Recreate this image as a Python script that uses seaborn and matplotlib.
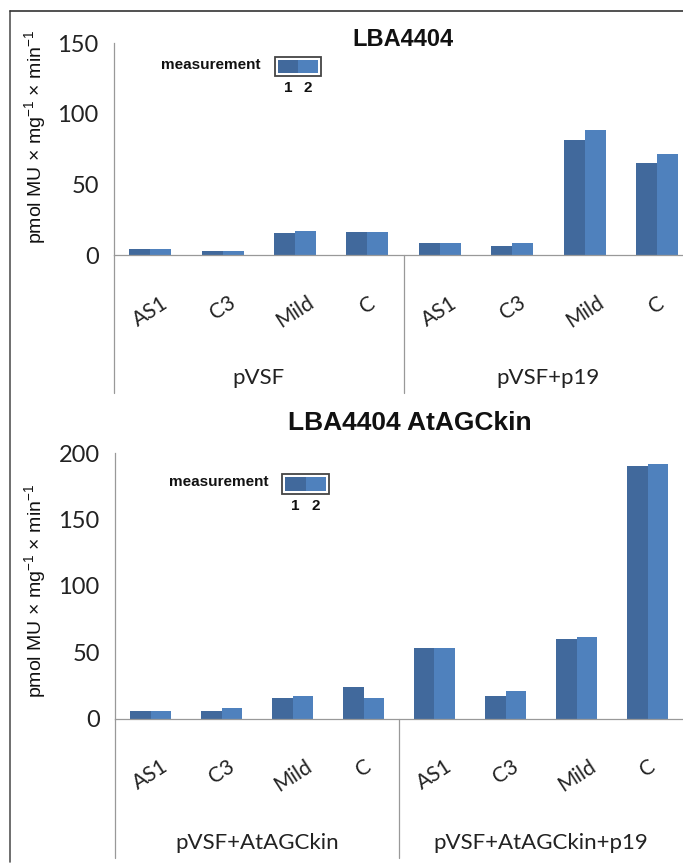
import pandas as pd
import seaborn as sns
import matplotlib.pyplot as plt
from matplotlib.lines import Line2D
from matplotlib.patches import Rectangle

# Bar heights (pmol MU x mg-1 x min-1)
categories = ['AS1', 'C3', 'Mild', 'C']
measurements = ['1', '2']

top_groups = ['pVSF', 'pVSF+p19']
top_m1 = [4.2, 3.0, 15.8, 16.3, 8.5, 6.8, 81.6, 65.1]
top_m2 = [4.2, 3.0, 17.0, 16.3, 8.5, 8.5, 88.9, 71.5]
top_yticks = [0, 50, 100, 150]

bottom_groups = ['pVSF+AtAGCkin', 'pVSF+AtAGCkin+p19']
bottom_m1 = [6.0, 6.0, 15.8, 23.6, 53.5, 17.1, 60.1, 190.7]
bottom_m2 = [6.0, 7.8, 17.1, 15.8, 53.5, 20.6, 61.6, 192.0]
bottom_yticks = [0, 50, 100, 150, 200]

colors = ['#41699c', '#4f81bd']

sns.set_theme(style='white')
plt.rcParams['font.family'] = ['Lato', 'DejaVu Sans']
plt.rcParams['mathtext.fontset'] = 'custom'
plt.rcParams['mathtext.rm'] = 'Liberation Sans'
plt.rcParams['mathtext.it'] = 'Liberation Sans'

W, H = 683, 864
fig = plt.figure(figsize=(W / 100, H / 100), dpi=100)
fig.patch.set_facecolor('white')


def fx(x):
    return x / W


def fy(y):
    return 1 - y / H


def make_frame(groups, m1, m2):
    keys = [f'{g}|{c}' for g in groups for c in categories]
    return pd.DataFrame({
        'key': keys * 2,
        'measurement': [measurements[0]] * len(keys) + [measurements[1]] * len(keys),
        'value': m1 + m2,
    })


def draw_panel(rect, df, groups, yticks, sep_bottom, group_y, ylabel_xy):
    ax = fig.add_axes(rect)
    sns.barplot(data=df, x='key', y='value', hue='measurement', palette=colors,
                width=0.58, saturation=1, errorbar=None, legend=False,
                linewidth=0, ax=ax)
    ax.set_xlim(-0.5, 7.5)
    ax.set_ylim(0, yticks[-1])
    ax.set_yticks(yticks)
    ax.set_xticks(range(8))
    ax.set_xticklabels(categories * 2, rotation=33, ha='center', va='top', fontsize=15)
    ax.tick_params(axis='x', length=0, pad=27, labelcolor='#222')
    ax.tick_params(axis='y', length=5, width=0.8, color='#999', direction='out',
                   labelsize=17, labelcolor='#222', pad=6)
    for side in ['top', 'right']:
        ax.spines[side].set_visible(False)
    for side in ['left', 'bottom']:
        ax.spines[side].set_color('#999')
        ax.spines[side].set_linewidth(0.9)
    ax.set_facecolor('none')
    ax.set_xlabel('')
    ax.set_ylabel(r'pmol MU $\times$ mg$^{-1}$ $\times$ min$^{-1}$',
                  family='Liberation Sans', fontsize=14, va='center', color='#111')
    ax.yaxis.set_label_coords(*ylabel_xy)

    # category-group separators and group names under the ticks
    trans = ax.get_xaxis_transform()
    for xs in [-0.5, 3.5]:
        ax.plot([xs, xs], [0, sep_bottom], transform=trans, clip_on=False,
                color='#999', lw=0.9)
    for i, g in enumerate(groups):
        ax.text(1.5 + 4 * i, group_y, g, transform=trans, ha='center', va='center',
                fontsize=16, color='#222')
    return ax


def draw_legend(box, text_right, text_y, nums_y):
    x0, y0, x1, y1 = box
    fig.add_artist(Rectangle((fx(x0), fy(y1)), fx(x1) - fx(x0), fy(y0) - fy(y1),
                             transform=fig.transFigure, facecolor='white',
                             edgecolor='#444', lw=1.3))
    xm = (x0 + x1) / 2
    fig.add_artist(Rectangle((fx(x0 + 3), fy(y1 - 3)), fx(xm - x0 - 3), fy(y0 + 3) - fy(y1 - 3),
                             transform=fig.transFigure, facecolor=colors[0], lw=0))
    fig.add_artist(Rectangle((fx(xm), fy(y1 - 3)), fx(x1 - 3 - xm), fy(y0 + 3) - fy(y1 - 3),
                             transform=fig.transFigure, facecolor=colors[1], lw=0))
    fig.text(fx(text_right), fy(text_y), 'measurement', ha='right', va='center',
             family='Liberation Sans', fontweight='bold', fontsize=11, color='#111')
    for m, cx in zip(measurements, [(x0 + 3 + xm) / 2, (xm + x1 - 3) / 2]):
        fig.text(fx(cx), fy(nums_y), m, ha='center', va='center',
                 family='Liberation Sans', fontweight='bold', fontsize=11, color='#111')


# top panel: LBA4404
top_df = make_frame(top_groups, top_m1, top_m2)
draw_panel([fx(114), fy(255.3), fx(114 + 8 * 72.4) - fx(114), fy(43.3) - fy(255.3)],
           top_df, top_groups, top_yticks, -0.65, -0.579, (-0.136, 0.558))
fig.text(fx(403), fy(40), 'LBA4404', ha='center', va='center',
         family='Liberation Sans', fontweight='bold', fontsize=17, color='#111')
draw_legend((275, 57, 321, 76), 261, 65, 88)

# bottom panel: LBA4404 AtAGCkin
bottom_df = make_frame(bottom_groups, bottom_m1, bottom_m2)
draw_panel([fx(115), fy(718.7), fx(115 + 8 * 71) - fx(115), fy(453.3) - fy(718.7)],
           bottom_df, bottom_groups, bottom_yticks, -0.525, -0.468, (-0.141, 0.481))
fig.text(fx(410), fy(423), 'LBA4404 AtAGCkin', ha='center', va='center',
         family='Liberation Sans', fontweight='bold', fontsize=19, color='#111')
draw_legend((282, 474, 329, 494), 269, 482, 506)

# outer frame of the original figure (left and top edges)
fig.add_artist(Line2D([fx(10), fx(10)], [fy(11), fy(862)], color='#555', lw=1.2))
fig.add_artist(Line2D([fx(10), 1], [fy(11), fy(11)], color='#333', lw=1.2))

fig.savefig('out.png', dpi=100)
